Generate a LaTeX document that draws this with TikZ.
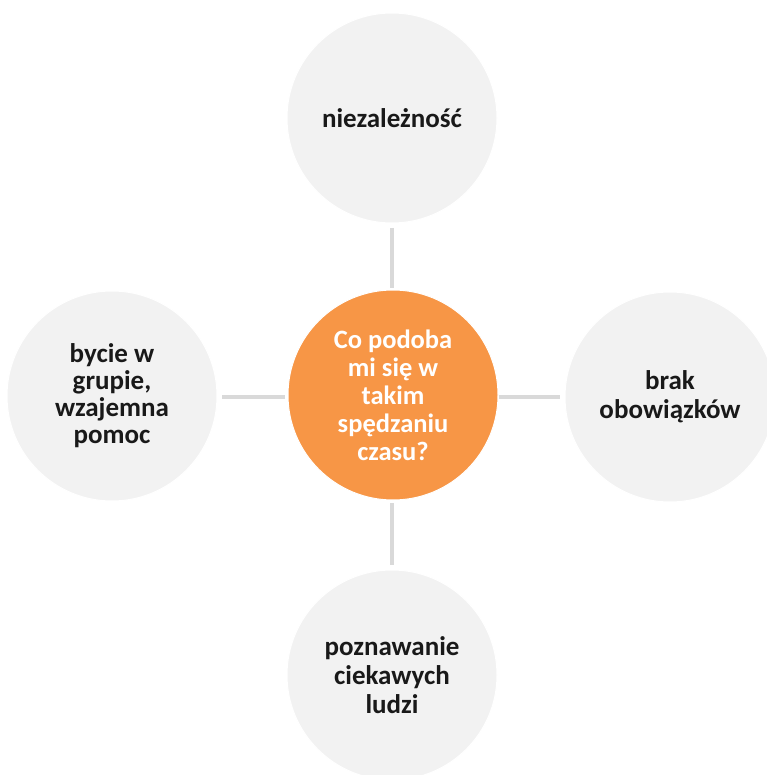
\documentclass[tikz,border=0pt]{standalone}
\usepackage{fontspec}
\setmainfont{Carlito}
\definecolor{orangeC}{HTML}{F79646}
\definecolor{grayC}{HTML}{F2F2F2}
\definecolor{lineC}{HTML}{D9D9D9}
\tikzset{
  outer/.style={circle, fill=grayC, draw=white, line width=1pt, minimum size=210pt, inner sep=0pt,
    align=center, font=\fontsize{27}{29}\selectfont\bfseries, text=black!90},
  center/.style={circle, fill=orangeC, draw=white, line width=1pt, minimum size=210pt, inner sep=0pt,
    align=center, font=\fontsize{26.5}{28}\selectfont\bfseries, text=white},
  conn/.style={draw=lineC, line width=4pt}
}
\begin{document}
\begin{tikzpicture}[x=1pt,y=-1pt]
\useasboundingbox (0,0) rectangle (766,775);
\node[center] (c) at (393,395) {Co podoba\\mi się w\\takim\\spędzaniu\\czasu?};
\node[outer] (t) at (392,118) {niezależność};
\node[outer, font=\fontsize{27}{27}\selectfont\bfseries] (l) at (112,396) {bycie w\\grupie,\\wzajemna\\pomoc};
\node[outer] (r) at (670,397) {brak\\obowiązków};
\node[outer] (b) at (392,675) {poznawanie\\ciekawych\\ludzi};
\coordinate (t1) at (392,228); \coordinate (t2) at (392,288);
\coordinate (l1) at (222,397); \coordinate (l2) at (285,397);
\coordinate (r1) at (499,397); \coordinate (r2) at (560,397);
\coordinate (b1) at (392,503); \coordinate (b2) at (392,565);
\draw[conn] (t1) -- (t2);
\draw[conn] (l1) -- (l2);
\draw[conn] (r1) -- (r2);
\draw[conn] (b1) -- (b2);
\end{tikzpicture}
\end{document}
